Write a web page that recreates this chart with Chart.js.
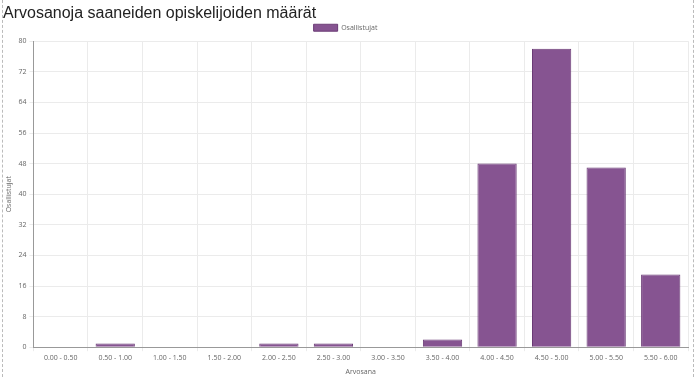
<!DOCTYPE html>
<html>
<head>
<meta charset="utf-8">
<script src="https://cdn.jsdelivr.net/npm/chart.js@4/dist/chart.umd.min.js"></script>
<style>
  html, body { margin: 0; padding: 0; background: #fff; }
  #wrap {
    position: absolute; left: 2px; top: 0; width: 690px; height: 377px;
    border-left: 1px dashed #bbb; border-right: 1px dashed #bbb;
  }
  canvas { display: block; }
</style>
</head>
<body>
<div id="wrap"><canvas id="gradeChart" width="690" height="377"></canvas></div>
<script>
Chart.defaults.font.family = "'Open Sans', sans-serif"
Chart.defaults.color = '#666'

const gradeLabels = ['0.00 - 0.50', '0.50 - 1.00', '1.00 - 1.50', '1.50 - 2.00', '2.00 - 2.50', '2.50 - 3.00',
    '3.00 - 3.50', '3.50 - 4.00', '4.00 - 4.50', '4.50 - 5.00', '5.00 - 5.50', '5.50 - 6.00']
const participantCounts = [0, 1, 0, 0, 1, 1, 0, 2, 48, 78, 47, 19]

const data = {
    labels: gradeLabels,
    datasets: [{
        label: 'Osallistujat',
        data: participantCounts,
        backgroundColor: '#865491',
        borderColor: '#6a3a75',
        borderWidth: 1
    }]
}

const options = {
    responsive: false,
    animation: false,
    layout: {padding: {left: 0, right: 5, top: 0, bottom: 1}},
    plugins: {
        title: {
            display: true,
            text: 'Arvosanoja saaneiden opiskelijoiden määrät',
            align: 'start',
            color: '#222',
            font: {family: "'Liberation Sans', Arial, sans-serif", size: 16, weight: 'normal'},
            padding: {top: 4, bottom: 0}
        },
        legend: {
            labels: {boxWidth: 24, boxHeight: 7, font: {size: 7}, padding: 1}
        },
        tooltip: {enabled: false}
    },
    scales: {
        x: {
            grid: {color: '#ebebeb', tickLength: 4},
            border: {color: '#999'},
            ticks: {font: {size: 7}, maxRotation: 0},
            title: {display: true, text: 'Arvosana', font: {size: 7}, padding: {top: 2, bottom: 0}}
        },
        y: {
            min: 0,
            max: 80,
            grid: {color: '#ebebeb', tickLength: 4},
            border: {color: '#999'},
            ticks: {stepSize: 8, font: {size: 7}},
            title: {display: true, text: 'Osallistujat', font: {size: 7}, padding: 2}
        }
    }
}

new Chart('gradeChart', {type: 'bar', data, options})
</script>
</body>
</html>
